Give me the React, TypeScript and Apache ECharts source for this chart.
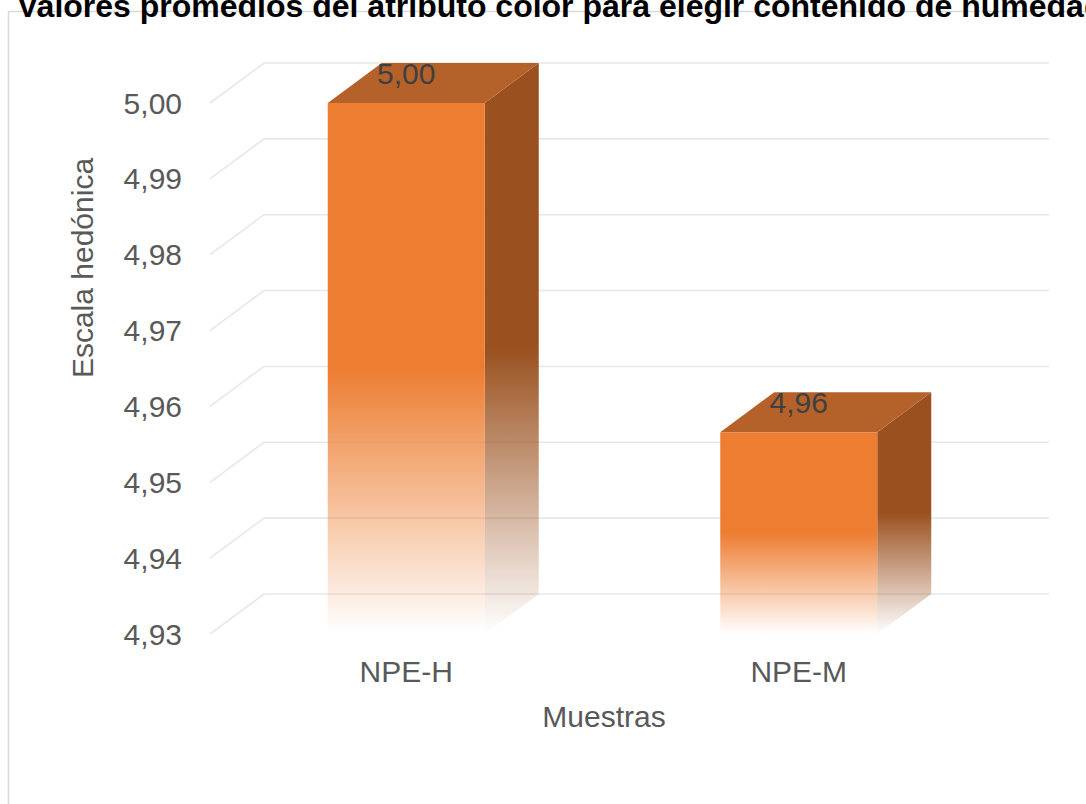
import React, { useEffect, useRef } from "react";
import * as echarts from "echarts";

// Chart texts
const chartTitle = "Valores promedios del atributo color para elegir contenido de humedad";
const yAxisTitle = "Escala hedónica";
const xAxisTitle = "Muestras";

// Samples and their mean hedonic scores
const categories = ["NPE-H", "NPE-M"];
const meanScores = [5.0, 4.9566];

// Value axis range and tick values
const yMin = 4.93;
const yMax = 5.0;
const yStep = 0.01;
const yTicks = [4.93, 4.94, 4.95, 4.96, 4.97, 4.98, 4.99, 5.0];

// Oblique offset of the back wall relative to the front plane
const DEPTH_X = 54;
const DEPTH_Y = -40;

const FONT = "'Liberation Sans', Arial, Helvetica, sans-serif";
const FRONT = [237, 125, 49];
const SIDE = [154, 81, 31];
const TOP = "#B5612A";

const fmt = (v: number) => Number(v).toFixed(2).replace(".", ",");

const fade = (rgb: number[], start: number) =>
  new echarts.graphic.LinearGradient(0, 0, 0, 1, [
    { offset: 0, color: `rgba(${rgb.join(",")},1)` },
    { offset: start, color: `rgba(${rgb.join(",")},1)` },
    { offset: 1, color: `rgba(${rgb.join(",")},0)` },
  ]);

export default function App() {
  const ref = useRef<HTMLDivElement>(null);

  useEffect(() => {
    document.body.style.margin = "0";
    document.body.style.overflow = "hidden";
    if (!ref.current) return;
    const chart = echarts.init(ref.current, undefined, { renderer: "svg" });

    const option: any = {
      animation: false,
      backgroundColor: "#ffffff",
      grid: { left: 210, right: 91, top: 103, bottom: 170, containLabel: false },
      xAxis: {
        type: "category",
        data: categories,
        axisLine: { show: false },
        axisTick: { show: false },
        splitLine: { show: false },
        axisLabel: { color: "#595959", fontSize: 30, fontFamily: FONT, margin: 22 },
      },
      yAxis: {
        type: "value",
        min: yMin,
        max: yMax,
        interval: yStep,
        axisLine: { show: false },
        axisTick: { show: false },
        splitLine: { show: false },
        axisLabel: { color: "#595959", fontSize: 30, fontFamily: FONT, margin: 28, formatter: (v: number) => fmt(v) },
      },
      graphic: [
        {
          type: "rect",
          shape: { x: 8.5, y: 11.5, width: 1300, height: 1000 },
          style: { fill: "none", stroke: "#D9D9D9", lineWidth: 1.5 },
          z: 0,
        },
        {
          type: "text",
          x: 17,
          y: 6,
          style: {
            text: chartTitle,
            fill: "#000000",
            font: `bold 32px ${FONT}`,
            align: "left",
            verticalAlign: "middle",
          },
        },
        {
          type: "text",
          x: 82,
          y: 268,
          rotation: Math.PI / 2,
          style: {
            text: yAxisTitle,
            fill: "#595959",
            font: `30px ${FONT}`,
            align: "center",
            verticalAlign: "middle",
          },
        },
        {
          type: "text",
          x: 604,
          y: 716,
          style: {
            text: xAxisTitle,
            fill: "#595959",
            font: `30px ${FONT}`,
            align: "center",
            verticalAlign: "middle",
          },
        },
      ],
      series: [
        {
          // gridlines: front-left oblique segment then along the back wall
          type: "custom",
          z: 1,
          clip: false,
          silent: true,
          data: yTicks.map((t) => [0, t]),
          encode: { x: 0, y: 1 },
          renderItem: (params: any, api: any) => {
            const cs = params.coordSys;
            const y = api.coord([0, api.value(1)])[1];
            return {
              type: "polyline",
              shape: {
                points: [
                  [cs.x, y],
                  [cs.x + DEPTH_X, y + DEPTH_Y],
                  [cs.x + cs.width + DEPTH_X, y + DEPTH_Y],
                ],
              },
              style: { stroke: "#E7E7E7", lineWidth: 1.6, fill: null },
            };
          },
        },
        {
          // boxed columns with a fading base
          type: "custom",
          z: 2,
          clip: false,
          data: categories.map((_, i) => [i, meanScores[i]]),
          encode: { x: 0, y: 1 },
          renderItem: (params: any, api: any) => {
            const idx = api.value(0);
            const v = api.value(1);
            const top = api.coord([idx, v]);
            const base = api.coord([idx, yMin]);
            const band = api.size([1, 0])[0];
            const w = band * 0.4;
            const l = top[0] - w / 2;
            const r = top[0] + w / 2;
            const t = top[1];
            const b = base[1];
            return {
              type: "group",
              children: [
                {
                  type: "polygon",
                  shape: { points: [[r, t], [r + DEPTH_X, t + DEPTH_Y], [r + DEPTH_X, b + DEPTH_Y], [r, b]] },
                  style: { fill: fade(SIDE, 0.5) },
                },
                {
                  type: "polygon",
                  shape: { points: [[l, t], [l + DEPTH_X, t + DEPTH_Y], [r + DEPTH_X, t + DEPTH_Y], [r, t]] },
                  style: { fill: TOP },
                },
                {
                  type: "rect",
                  shape: { x: l, y: t, width: w, height: b - t },
                  style: { fill: fade(FRONT, 0.5) },
                },
                {
                  type: "text",
                  x: top[0],
                  y: t - 30,
                  style: {
                    text: fmt(v),
                    fill: "#404040",
                    font: `30px ${FONT}`,
                    align: "center",
                    verticalAlign: "middle",
                  },
                },
              ],
            };
          },
        },
      ],
    };

    chart.setOption(option);
    return () => chart.dispose();
  }, []);

  return <div ref={ref} style={{ width: 1086, height: 804 }} />;
}
